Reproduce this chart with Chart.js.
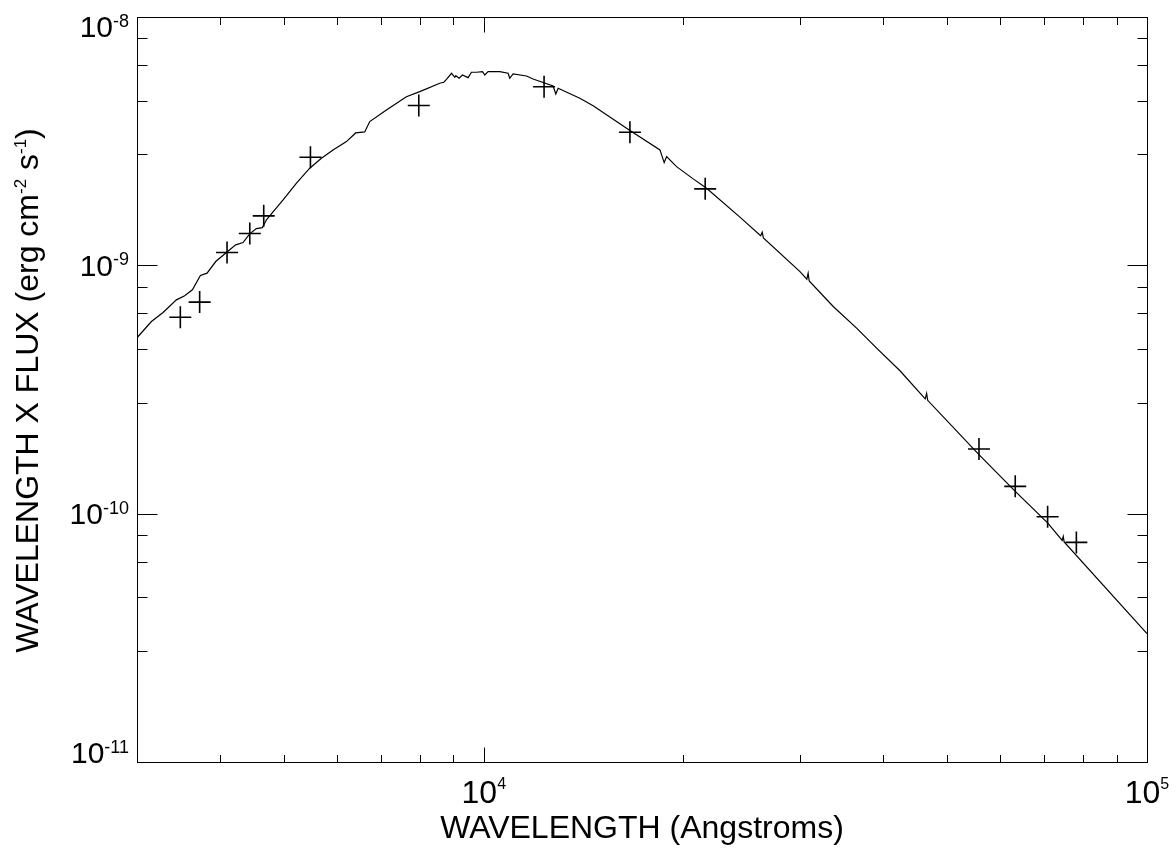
<!DOCTYPE html>
<html>
<head>
<meta charset="utf-8">
<script src="https://cdn.jsdelivr.net/npm/chart.js@4.4.1/dist/chart.umd.min.js"></script>
<style>
html,body{margin:0;padding:0;background:#ffffff;}
#wrap{width:1176px;height:852px;position:relative;}
</style>
</head>
<body>
<div id="wrap"><canvas id="c" width="1176" height="852"></canvas></div>
<script>
// ---- model spectrum (wavelength in Angstroms, lambda*F_lambda) ----
const modelWavelength = [3000,3154,3284,3440,3540,3636,3739,3826,3943,4092,4226,4335,4437,4541,4637,4702,4811,4982,5219,5465,5691,5925,6207,6410,6614,6731,7131,7644,8007,8582,8703,8785,8940,9043,9074,9178,9287,9469,9581,9750,9955,10035,10150,10571,10881,10944,11070,11599,11866,12721,12842,12946,13957,14619,16610,18434,18707,18866,19528,20689,21674,24332,26150,26292,26400,29975,30700,30838,30950,33643,36486,39114,42416,46300,46529,46700,55797,63299,70818,74500,74772,75000,100000];
const modelFlux = [5.11e-10,5.94e-10,6.46e-10,7.26e-10,7.54e-10,7.97e-10,9.10e-10,9.30e-10,1.036e-9,1.126e-9,1.209e-9,1.235e-9,1.339e-9,1.406e-9,1.419e-9,1.525e-9,1.642e-9,1.835e-9,2.142e-9,2.461e-9,2.700e-9,2.916e-9,3.149e-9,3.413e-9,3.445e-9,3.791e-9,4.224e-9,4.777e-9,5.004e-9,5.409e-9,5.461e-9,5.613e-9,5.934e-9,5.719e-9,5.804e-9,5.667e-9,5.842e-9,5.699e-9,5.990e-9,5.990e-9,6.023e-9,5.842e-9,6.023e-9,6.023e-9,5.934e-9,5.667e-9,5.897e-9,5.788e-9,5.629e-9,5.276e-9,4.897e-9,5.165e-9,4.708e-9,4.395e-9,3.494e-9,2.916e-9,2.593e-9,2.741e-9,2.497e-9,2.229e-9,2.045e-9,1.563e-9,1.315e-9,1.36e-9,1.29e-9,9.44e-10,8.80e-10,9.3e-10,8.65e-10,6.83e-10,5.59e-10,4.643e-10,3.762e-10,2.90e-10,3.05e-10,2.86e-10,1.728e-10,1.230e-10,9.18e-11,7.8e-11,8.1e-11,7.7e-11,3.29e-11];

// ---- photometric points ----
const photWavelength = [3487,3729,4101,4438,4658,5478,7980,12328,16609,21570,55803,63289,70820,78251];
const photFlux = [6.18e-10,7.11e-10,1.126e-9,1.343e-9,1.582e-9,2.724e-9,4.40e-9,5.24e-9,3.436e-9,2.032e-9,1.821e-10,1.288e-10,9.72e-11,7.66e-11];

// ---- axes ----
const xRange = [3000, 100000];
const yRange = [1e-11, 1e-8];
const xMajorTicks = [1e4, 1e5];
const xMajorLabels = [['10','4'],['10','5']];
const xMinorTicks = [4000,5000,6000,7000,8000,9000,20000,30000,40000,50000,60000,70000,80000,90000];
const yMajorTicks = [1e-8, 1e-9, 1e-10, 1e-11];
const yMajorLabels = [['10','-8'],['10','-9'],['10','-10'],['10','-11']];
const yMinorTicks = [2.8e-11,4.6e-11,6.4e-11,8.2e-11,2.8e-10,4.6e-10,6.4e-10,8.2e-10,2.8e-9,4.6e-9,6.4e-9,8.2e-9];
const xTitle = 'WAVELENGTH (Angstroms)';
const yTitleParts = [['WAVELENGTH X FLUX (erg cm', false], ['-2', true], [' s', false], ['-1', true], [')', false]];

const FONT = '"Liberation Sans", Arial, Helvetica, sans-serif';

const frameAxes = {
  id: 'frameAxes',
  afterDraw(chart) {
    const ctx = chart.ctx;
    const a = chart.chartArea;
    const xs = chart.scales.x, ys = chart.scales.y;
    ctx.save();
    ctx.strokeStyle = '#000';
    ctx.lineWidth = 1;
    ctx.strokeRect(Math.round(a.left) + 0.5, Math.round(a.top) + 0.5,
                   Math.round(a.right - a.left), Math.round(a.bottom - a.top));
    const L = Math.round(a.left) + 0.5, R = Math.round(a.right) + 0.5;
    const T = Math.round(a.top) + 0.5, B = Math.round(a.bottom) + 0.5;
    ctx.beginPath();
    const xTick = (v, len) => {
      const p = Math.round(xs.getPixelForValue(v)) + 0.5;
      ctx.moveTo(p, B); ctx.lineTo(p, B - len);
      ctx.moveTo(p, T); ctx.lineTo(p, T + len);
    };
    const yTick = (v, len) => {
      const p = Math.round(ys.getPixelForValue(v)) + 0.5;
      ctx.moveTo(L, p); ctx.lineTo(L + len, p);
      ctx.moveTo(R, p); ctx.lineTo(R - len, p);
    };
    xMajorTicks.forEach(v => xTick(v, 15));
    xMinorTicks.forEach(v => xTick(v, 7.5));
    yMajorTicks.forEach(v => yTick(v, 20));
    yMinorTicks.forEach(v => yTick(v, 10));
    ctx.stroke();

    ctx.fillStyle = '#000';
    ctx.textBaseline = 'alphabetic';
    ctx.textAlign = 'left';
    // x tick labels
    xMajorTicks.forEach((v, i) => {
      const p = xs.getPixelForValue(v);
      const [base, sup] = xMajorLabels[i];
      ctx.font = '32px ' + FONT;
      const wb = ctx.measureText(base).width;
      ctx.font = '16px ' + FONT;
      const ws = ctx.measureText(sup).width;
      const start = p - (wb + ws) / 2;
      ctx.font = '32px ' + FONT;
      ctx.fillText(base, start, 803);
      ctx.font = '16px ' + FONT;
      ctx.fillText(sup, start + wb, 789);
    });
    // y tick labels
    yMajorTicks.forEach((v, i) => {
      const p = ys.getPixelForValue(v);
      const [base, sup] = yMajorLabels[i];
      ctx.font = '18px ' + FONT;
      const ws = ctx.measureText(sup).width;
      ctx.font = '30px ' + FONT;
      const wb = ctx.measureText(base).width;
      const right = a.left - 8;
      let bl = p + 10.5;
      bl = Math.max(bl, a.top + 20);
      bl = Math.min(bl, a.bottom + 1);
      ctx.fillText(base, right - ws - wb, bl);
      ctx.font = '18px ' + FONT;
      ctx.fillText(sup, right - ws, bl - 10.5);
    });
    // x title
    ctx.font = '32px ' + FONT;
    ctx.textAlign = 'center';
    ctx.fillText(xTitle, (a.left + a.right) / 2, 838);
    // y title (rotated, with superscripts)
    ctx.textAlign = 'left';
    const widths = yTitleParts.map(([t, s]) => {
      ctx.font = (s ? '17px ' : '32px ') + FONT;
      return ctx.measureText(t).width;
    });
    const total = widths.reduce((q, w) => q + w, 0);
    ctx.translate(37.5, (a.top + a.bottom) / 2 + 1);
    ctx.rotate(-Math.PI / 2);
    let cx = -total / 2;
    yTitleParts.forEach(([t, s], i) => {
      ctx.font = (s ? '17px ' : '32px ') + FONT;
      ctx.fillText(t, cx, s ? -12 : 0);
      cx += widths[i];
    });
    ctx.restore();
  }
};

const modelPoints = modelWavelength.map((w, i) => ({x: w, y: modelFlux[i]}));
const photPoints = photWavelength.map((w, i) => ({x: w, y: photFlux[i]}));

new Chart(document.getElementById('c'), {
  type: 'scatter',
  data: {
    datasets: [
      {
        label: 'Model',
        data: modelPoints,
        showLine: true,
        borderColor: '#000',
        borderWidth: 1.2,
        pointRadius: 0,
        tension: 0,
        fill: false
      },
      {
        label: 'Photometry',
        data: photPoints,
        showLine: false,
        pointStyle: 'cross',
        pointRadius: 11,
        pointBorderWidth: 1.6,
        borderColor: '#000',
        backgroundColor: '#000'
      }
    ]
  },
  options: {
    responsive: false,
    animation: false,
    events: [],
    layout: { padding: { left: 137, top: 17, right: 29, bottom: 90 } },
    plugins: { legend: { display: false }, tooltip: { enabled: false } },
    scales: {
      x: { type: 'logarithmic', min: xRange[0], max: xRange[1], display: false },
      y: { type: 'logarithmic', min: yRange[0], max: yRange[1], display: false }
    }
  },
  plugins: [frameAxes]
});
</script>
</body>
</html>
